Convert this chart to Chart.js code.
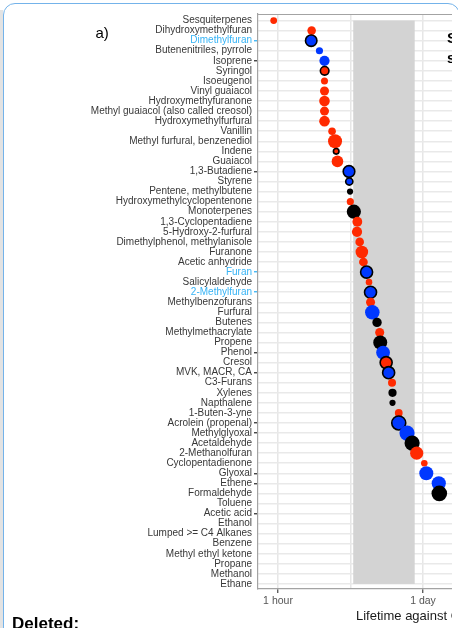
<!DOCTYPE html>
<html><head><meta charset="utf-8">
<script src="https://cdn.jsdelivr.net/npm/chart.js@4.4.1/dist/chart.umd.min.js"></script>
<style>
html,body{margin:0;padding:0;background:#fff;}
body{width:458px;height:628px;overflow:hidden;position:relative;font-family:"Liberation Sans",Arial,sans-serif;}
#strip{position:absolute;left:0;top:10px;width:3px;height:618px;background:#e3e3e3;}
#frame{position:absolute;left:3px;top:3px;width:457px;height:700px;border:1.5px solid #74b3ea;border-radius:12px;box-sizing:border-box;}
#clip{position:absolute;left:0;top:0;width:452px;height:628px;overflow:hidden;}
#c{position:absolute;left:0;top:0;}
.txt{position:absolute;white-space:nowrap;line-height:1;color:#000;}
</style></head>
<body>
<div id="strip"></div>
<div id="frame"></div>
<div id="clip">
  <canvas id="c" width="640" height="628"></canvas>
  <div class="txt" style="left:95.5px;top:25px;font-size:15px;">a)</div>
  <div class="txt" style="left:447px;top:30px;font-size:15px;font-weight:bold;">Source</div>
  <div class="txt" style="left:447px;top:50px;font-size:15px;font-weight:bold;">size</div>
  <div class="txt" style="left:356px;top:608.5px;font-size:13px;color:#1a1a1a;">Lifetime against OH</div>
</div>
<div class="txt" style="left:12px;top:615px;font-size:17px;font-weight:bold;">Deleted:</div>
<script>
const categories = ['Sesquiterpenes','Dihydroxymethylfuran','Dimethylfuran','Butenenitriles, pyrrole','Isoprene','Syringol','Isoeugenol','Vinyl guaiacol','Hydroxymethyfuranone','Methyl guaiacol (also called creosol)','Hydroxymethylfurfural','Vanillin','Methyl furfural, benzenediol','Indene','Guaiacol','1,3-Butadiene','Styrene','Pentene, methylbutene','Hydroxymethylcyclopentenone','Monoterpenes','1,3-Cyclopentadiene','5-Hydroxy-2-furfural','Dimethylphenol, methylanisole','Furanone','Acetic anhydride','Furan','Salicylaldehyde','2-Methylfuran','Methylbenzofurans','Furfural','Butenes','Methylmethacrylate','Propene','Phenol','Cresol','MVK, MACR, CA','C3-Furans','Xylenes','Napthalene','1-Buten-3-yne','Acrolein (propenal)','Methylglyoxal','Acetaldehyde','2-Methanolfuran','Cyclopentadienone','Glyoxal','Ethene','Formaldehyde','Toluene','Acetic acid','Ethanol','Lumped >= C4 Alkanes','Benzene','Methyl ethyl ketone','Propane','Methanol','Ethane'];

// lifetime in hours (log axis)
const lifetimeHours = [0.91,2.09,2.07,2.48,2.77,2.78,2.77,2.77,2.77,2.77,2.77,3.27,3.49,3.58,3.68,4.74,4.77,4.85,4.88,5.27,5.69,5.65,5.99,6.28,6.5,6.97,7.35,7.6,7.6,7.9,8.76,9.29,9.4,10.0,10.7,11.3,12.17,12.3,12.3,14.1,14.1,16.9,18.9,20.9,24.7,25.8,33.9,34.3,null,null,null,null,null,null,null,null,null];

// relative emission (bubble size)
const emission = [2.9,4.6,10.6,3.2,6.5,6.5,3.1,5.1,7,5.1,7,3.6,12.25,3.2,8.4,10.9,4.8,2.4,3.2,12.6,6,6.5,4.6,9.9,4.8,11.6,2.7,11.6,5.1,13.3,5.5,5.1,12.25,11.9,11.6,11.6,4,4.2,2.4,3.8,15.2,14.4,14.4,10.9,2.7,12.25,12.6,15.2,null,null,null,null,null,null,null,null,null];

const groups = ['R','R','B','B','B','R','R','R','R','R','R','R','R','R','R','B','B','K','R','K','R','R','R','R','R','B','R','B','R','B','K','R','K','B','R','B','R','K','K','R','B','B','K','R','R','B','B','K',null,null,null,null,null,null,null,null,null];

const outlinedNames = ['Dimethylfuran','Syringol','Indene','1,3-Butadiene','Styrene','Furan','2-Methylfuran','Cresol','MVK, MACR, CA','Acrolein (propenal)'];
const highlightNames = ['Dimethylfuran','Furan','2-Methylfuran'];
const tickedNames = ['Dimethylfuran','Isoprene','1,3-Butadiene','Furan','2-Methylfuran','Phenol','MVK, MACR, CA','Acrolein (propenal)','Methylglyoxal','Glyoxal','Ethene','Acetic acid'];

const xTickValues = [1, 24, 168];
const xTickLabels = ['1 hour', '1 day', '1 week'];
const bandHours = [5.2, 20];

const palette = {R:'#ff2a00', B:'#0038ff', K:'#000000'};
const CYAN = '#36b3f5';
const OUTLINE_W = 1.6;
const radiusFor = v => 2 * Math.sqrt(v);

const points = [];
categories.forEach((c, i) => {
  if (lifetimeHours[i] == null) return;
  const out = outlinedNames.includes(c);
  points.push({x: lifetimeHours[i], y: i, r: radiusFor(emission[i]) - (out ? OUTLINE_W/2 : 0), g: groups[i], out});
});

const bandPlugin = {
  id: 'band',
  beforeDatasetsDraw(chart) {
    const {ctx, chartArea, scales: {x, y}} = chart;
    const x0 = x.getPixelForValue(bandHours[0]), x1 = x.getPixelForValue(bandHours[1]);
    const y0 = y.getPixelForValue(0), y1 = y.getPixelForValue(categories.length - 1);
    ctx.save();
    ctx.fillStyle = '#d3d3d3';
    ctx.fillRect(x0, y0, x1 - x0, y1 - y0);
    ctx.strokeStyle = '#a3a3a3';
    ctx.lineWidth = 1.2;
    ctx.beginPath();
    ctx.moveTo(chartArea.left, chartArea.top + 0.5);
    ctx.lineTo(chartArea.right, chartArea.top + 0.5);
    ctx.stroke();
    ctx.restore();
  }
};

Chart.defaults.font.family = '"Liberation Sans", Arial, sans-serif';

new Chart(document.getElementById('c'), {
  type: 'bubble',
  data: {
    datasets: [{
      data: points,
      backgroundColor: ctx => palette[ctx.raw.g],
      borderColor: '#000',
      borderWidth: ctx => ctx.raw.out ? OUTLINE_W : 0,
      hoverRadius: 0
    }]
  },
  plugins: [bandPlugin],
  options: {
    responsive: false,
    devicePixelRatio: 1,
    animation: false,
    events: [],
    layout: {padding: {left: 0, top: 14, right: 20, bottom: 0}},
    plugins: {legend: {display: false}, tooltip: {enabled: false}},
    scales: {
      x: {
        type: 'logarithmic',
        bounds: 'data',
        min: 0.645,
        max: 1800,
        afterFit(scale) { scale.height = 39; },
        afterBuildTicks(scale) {
          scale.ticks = [{value: 1}, {value: Math.sqrt(24)}, {value: 24}, {value: Math.sqrt(24 * 168)}, {value: 168}];
        },
        grid: {
          color: '#e6e6e6',
          lineWidth: 1.5,
          drawTicks: true,
          tickLength: 4,
          tickWidth: 1.2,
          tickColor: ctx => (ctx.tick && xTickValues.includes(ctx.tick.value)) ? '#444' : 'rgba(0,0,0,0)'
        },
        border: {display: true, color: '#a3a3a3', width: 1.2},
        ticks: {
          autoSkip: false,
          maxRotation: 0,
          padding: 2,
          color: '#555',
          font: {size: 10.5},
          callback: v => {
            const k = xTickValues.indexOf(v);
            return k >= 0 ? xTickLabels[k] : '';
          }
        }
      },
      y: {
        type: 'linear',
        bounds: 'data',
        reverse: true,
        min: -0.65,
        max: 56.5,
        afterFit(scale) { scale.width = 258; },
        afterBuildTicks(scale) {
          scale.ticks = categories.map((c, i) => ({value: i}));
        },
        grid: {
          color: '#e9e9e9',
          lineWidth: 1.5,
          drawTicks: true,
          tickLength: 4,
          tickWidth: 1.3,
          tickColor: ctx => {
            if (!ctx.tick) return 'rgba(0,0,0,0)';
            const n = categories[ctx.tick.value];
            if (!tickedNames.includes(n)) return 'rgba(0,0,0,0)';
            return highlightNames.includes(n) ? CYAN : '#333';
          }
        },
        border: {display: true, color: '#a3a3a3', width: 1.2},
        ticks: {
          autoSkip: false,
          padding: 2,
          font: {size: 10},
          color: ctx => (ctx.tick && highlightNames.includes(categories[ctx.tick.value])) ? CYAN : '#383838',
          callback: v => categories[v]
        }
      }
    }
  }
});
</script>
</body></html>
